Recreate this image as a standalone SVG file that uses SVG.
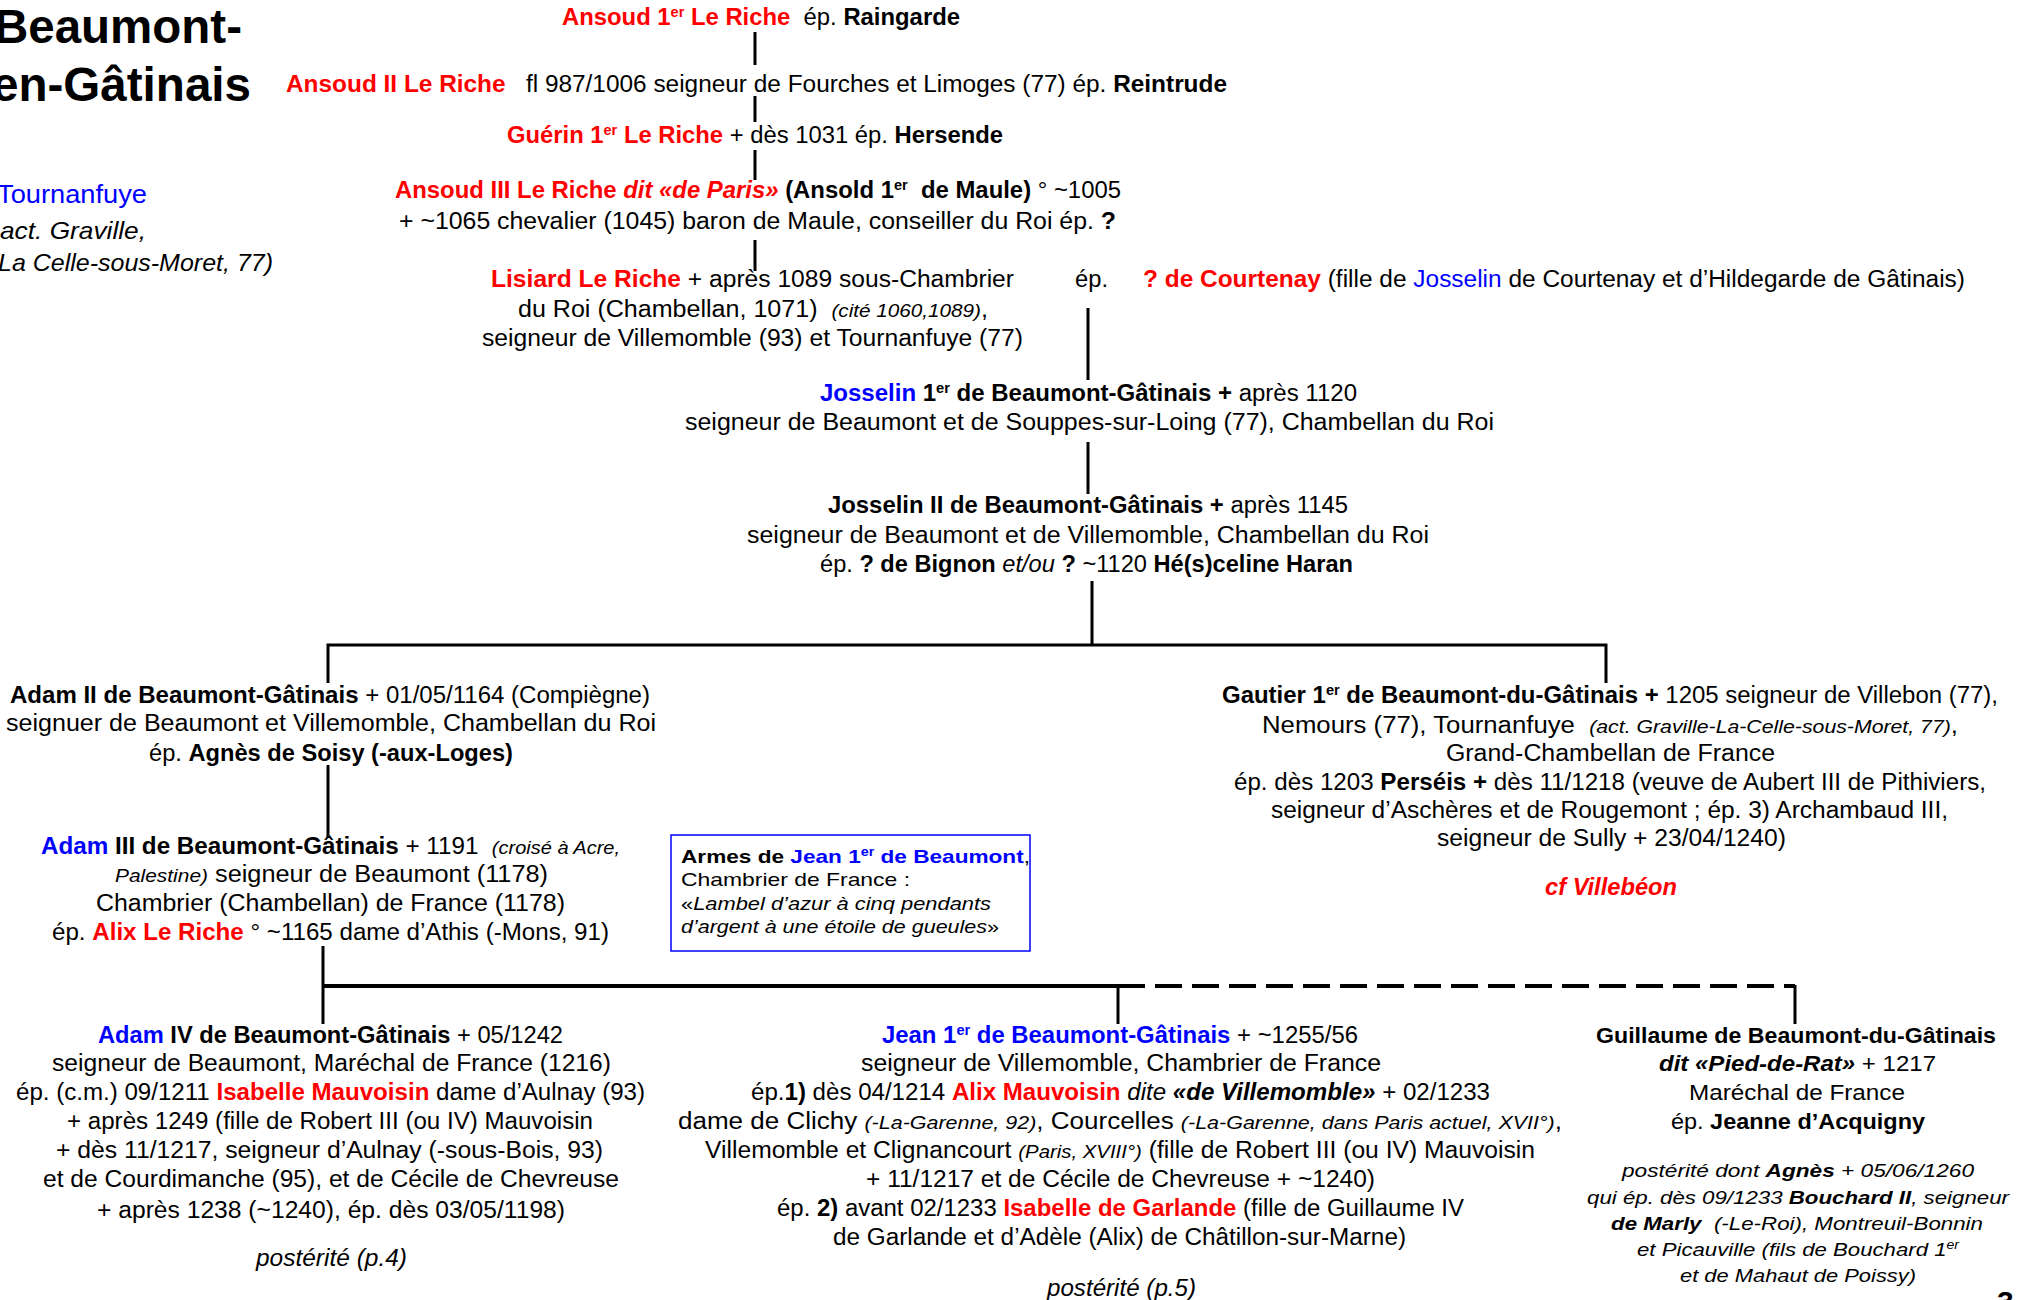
<svg xmlns="http://www.w3.org/2000/svg" width="2026" height="1300" viewBox="0 0 2026 1300">
<style>
text{font-family:'Liberation Sans Narrow','Liberation Sans',Arial,sans-serif;font-size:23px;fill:#000}
.w{font-family:'Liberation Sans',Arial,sans-serif}
.b{font-weight:bold}
.i{font-style:italic}
.r{fill:#ff0000}
.u{fill:#0000ff}
.sm{font-size:19px}
.sp{font-size:14px}
.title{font-family:'Liberation Sans',Arial,sans-serif;font-weight:bold;font-size:48px}
.ln{stroke:#000;stroke-width:3;fill:none}
.ln2{stroke:#000;stroke-width:4;fill:none}
.dash{stroke:#000;stroke-width:4;fill:none;stroke-dasharray:27 10}
</style>

<g id="title">
<text class="title" x="-6" y="43" textLength="248" lengthAdjust="spacingAndGlyphs">Beaumont-</text>
<text class="title" x="-8" y="101" textLength="259" lengthAdjust="spacingAndGlyphs">en-Gâtinais</text>
</g>
<g id="tournanfuye">
<text class="w u" style="font-size:26px" x="-3" y="203" textLength="150" lengthAdjust="spacingAndGlyphs">Tournanfuye</text>
<text class="w i" style="font-size:24px" x="0" y="239" textLength="146" lengthAdjust="spacingAndGlyphs">act. Graville,</text>
<text class="w i" style="font-size:24px" x="-2" y="271" textLength="275" lengthAdjust="spacingAndGlyphs">La Celle-sous-Moret, 77)</text>
</g>

<g id="connectors">
<path class="ln" d="M755,32 V65 M755,96 V122 M755,150 V180 M755,240 V271"/>
<path class="ln" d="M1088,308 V380 M1088,442 V494 M1092,581 V645"/>
<path class="ln" d="M328,683 V645 H1606 V683"/>
<path class="ln" d="M328,765 V838"/>
<path class="ln" d="M323,946 V1024"/>
<path class="ln2" d="M323,986 H1118"/>
<path class="ln" d="M1118,986 V1024"/>
<path class="dash" d="M1118,986 H1795"/>
<path class="ln" d="M1795,985 V1024"/>
</g>

<g id="ansoud1">
<text x="562" y="25" textLength="398" lengthAdjust="spacingAndGlyphs"><tspan class="b r">Ansoud 1</tspan><tspan class="b r sp" dy="-8">er</tspan><tspan class="b r" dy="8"> Le Riche</tspan>&#160; ép. <tspan class="b">Raingarde</tspan></text>
</g>
<g id="ansoud2">
<text x="286" y="92" textLength="941" lengthAdjust="spacingAndGlyphs"><tspan class="b r">Ansoud II Le Riche</tspan>&#160;&#160; fl 987/1006 seigneur de Fourches et Limoges (77) ép. <tspan class="b">Reintrude</tspan></text>
</g>
<g id="guerin">
<text x="507" y="143" textLength="496" lengthAdjust="spacingAndGlyphs"><tspan class="b r">Guérin 1</tspan><tspan class="b r sp" dy="-8">er</tspan><tspan class="b r" dy="8"> Le Riche</tspan> + dès 1031 ép. <tspan class="b">Hersende</tspan></text>
</g>
<g id="ansoud3">
<text x="395" y="198" textLength="726" lengthAdjust="spacingAndGlyphs"><tspan class="b r">Ansoud III Le Riche </tspan><tspan class="b r i">dit «de Paris»</tspan><tspan class="b"> (Ansold 1</tspan><tspan class="b sp" dy="-8">er</tspan><tspan class="b" dy="8">&#160; de Maule)</tspan> ° ~1005</text>
<text x="399" y="229" textLength="717" lengthAdjust="spacingAndGlyphs">+ ~1065 chevalier (1045) baron de Maule, conseiller du Roi ép. <tspan class="b">?</tspan></text>
</g>
<g id="lisiard">
<text x="491" y="287" textLength="523" lengthAdjust="spacingAndGlyphs"><tspan class="b r">Lisiard Le Riche</tspan> + après 1089 sous-Chambrier</text>
<text x="518" y="317" textLength="470" lengthAdjust="spacingAndGlyphs">du Roi (Chambellan, 1071)&#160; <tspan class="i sm">(cité 1060,1089)</tspan>,</text>
<text x="482" y="346" textLength="541" lengthAdjust="spacingAndGlyphs">seigneur de Villemomble (93) et Tournanfuye (77)</text>
<text x="1075" y="287" textLength="33" lengthAdjust="spacingAndGlyphs">ép.</text>
<text x="1143" y="287" textLength="822" lengthAdjust="spacingAndGlyphs"><tspan class="b r">? de Courtenay</tspan> (fille de <tspan class="u">Josselin</tspan> de Courtenay et d’Hildegarde de Gâtinais)</text>
</g>
<g id="josselin1">
<text x="820" y="401" textLength="537" lengthAdjust="spacingAndGlyphs"><tspan class="b u">Josselin</tspan><tspan class="b"> 1</tspan><tspan class="b sp" dy="-8">er</tspan><tspan class="b" dy="8"> de Beaumont-Gâtinais +</tspan> après 1120</text>
<text x="685" y="430" textLength="809" lengthAdjust="spacingAndGlyphs">seigneur de Beaumont et de Souppes-sur-Loing (77), Chambellan du Roi</text>
</g>
<g id="josselin2">
<text x="828" y="513" textLength="520" lengthAdjust="spacingAndGlyphs"><tspan class="b">Josselin II de Beaumont-Gâtinais +</tspan> après 1145</text>
<text x="747" y="543" textLength="682" lengthAdjust="spacingAndGlyphs">seigneur de Beaumont et de Villemomble, Chambellan du Roi</text>
<text x="820" y="572" textLength="533" lengthAdjust="spacingAndGlyphs">ép. <tspan class="b">? de Bignon</tspan><tspan class="i"> et/ou </tspan><tspan class="b">?</tspan> ~1120 <tspan class="b">Hé(s)celine Haran</tspan></text>
</g>
<g id="adam2">
<text x="10" y="703" textLength="640" lengthAdjust="spacingAndGlyphs"><tspan class="b">Adam II de Beaumont-Gâtinais</tspan> + 01/05/1164 (Compiègne)</text>
<text x="6" y="731" textLength="650" lengthAdjust="spacingAndGlyphs">seignuer de Beaumont et Villemomble, Chambellan du Roi</text>
<text x="149" y="761" textLength="364" lengthAdjust="spacingAndGlyphs">ép. <tspan class="b">Agnès de Soisy (-aux-Loges)</tspan></text>
</g>
<g id="gautier">
<text x="1222" y="703" textLength="776" lengthAdjust="spacingAndGlyphs"><tspan class="b">Gautier 1</tspan><tspan class="b sp" dy="-8">er</tspan><tspan class="b" dy="8"> de Beaumont-du-Gâtinais +</tspan> 1205 seigneur de Villebon (77),</text>
<text x="1262" y="733" textLength="696" lengthAdjust="spacingAndGlyphs">Nemours (77), Tournanfuye&#160; <tspan class="i sm">(act. Graville-La-Celle-sous-Moret, 77)</tspan>,</text>
<text x="1446" y="761" textLength="329" lengthAdjust="spacingAndGlyphs">Grand-Chambellan de France</text>
<text x="1234" y="790" textLength="752" lengthAdjust="spacingAndGlyphs">ép. dès 1203 <tspan class="b">Perséis +</tspan> dès 11/1218 (veuve de Aubert III de Pithiviers,</text>
<text x="1271" y="818" textLength="677" lengthAdjust="spacingAndGlyphs">seigneur d’Aschères et de Rougemont ; ép. 3) Archambaud III,</text>
<text x="1437" y="846" textLength="349" lengthAdjust="spacingAndGlyphs">seigneur de Sully + 23/04/1240)</text>
<text class="b i r" x="1545" y="895" textLength="132" lengthAdjust="spacingAndGlyphs">cf Villebéon</text>
</g>
<g id="adam3">
<text x="41" y="854" textLength="579" lengthAdjust="spacingAndGlyphs"><tspan class="b u">Adam</tspan><tspan class="b"> III de Beaumont-Gâtinais</tspan> + 1191&#160; <tspan class="i sm">(croisé à Acre,</tspan></text>
<text x="115" y="882" textLength="433" lengthAdjust="spacingAndGlyphs"><tspan class="i sm">Palestine)</tspan> seigneur de Beaumont (1178)</text>
<text x="96" y="911" textLength="469" lengthAdjust="spacingAndGlyphs">Chambrier (Chambellan) de France (1178)</text>
<text x="52" y="940" textLength="557" lengthAdjust="spacingAndGlyphs">ép. <tspan class="b r">Alix Le Riche</tspan> ° ~1165 dame d’Athis (-Mons, 91)</text>
</g>
<g id="armes">
<rect x="671" y="835" width="359" height="116" fill="#fff" stroke="#0000ff" stroke-width="1.5"/>
<text class="w" style="font-size:19px" x="681" y="863" textLength="349" lengthAdjust="spacingAndGlyphs"><tspan class="b">Armes de </tspan><tspan class="b u">Jean 1</tspan><tspan class="b u" style="font-size:12px" dy="-7">er</tspan><tspan class="b u" dy="7"> de Beaumont</tspan>,</text>
<text class="w" style="font-size:19px" x="681" y="886" textLength="229" lengthAdjust="spacingAndGlyphs">Chambrier de France :</text>
<text class="w" style="font-size:19px" x="681" y="910" textLength="310" lengthAdjust="spacingAndGlyphs">«<tspan class="i">Lambel d’azur à cinq pendants</tspan></text>
<text class="w i" style="font-size:19px" x="681" y="933" textLength="318" lengthAdjust="spacingAndGlyphs">d’argent à une étoile de gueules<tspan style="font-style:normal">»</tspan></text>
</g>
<g id="adam4">
<text x="98" y="1043" textLength="465" lengthAdjust="spacingAndGlyphs"><tspan class="b u">Adam</tspan><tspan class="b"> IV de Beaumont-Gâtinais</tspan> + 05/1242</text>
<text x="52" y="1071" textLength="559" lengthAdjust="spacingAndGlyphs">seigneur de Beaumont, Maréchal de France (1216)</text>
<text x="16" y="1100" textLength="629" lengthAdjust="spacingAndGlyphs">ép. (c.m.) 09/1211 <tspan class="b r">Isabelle Mauvoisin</tspan> dame d’Aulnay (93)</text>
<text x="67" y="1129" textLength="526" lengthAdjust="spacingAndGlyphs">+ après 1249 (fille de Robert III (ou IV) Mauvoisin</text>
<text x="56" y="1158" textLength="547" lengthAdjust="spacingAndGlyphs">+ dès 11/1217, seigneur d’Aulnay (-sous-Bois, 93)</text>
<text x="43" y="1187" textLength="576" lengthAdjust="spacingAndGlyphs">et de Courdimanche (95), et de Cécile de Chevreuse</text>
<text x="97" y="1218" textLength="468" lengthAdjust="spacingAndGlyphs">+ après 1238 (~1240), ép. dès 03/05/1198)</text>
<text class="i" x="256" y="1266" textLength="151" lengthAdjust="spacingAndGlyphs">postérité (p.4)</text>
</g>
<g id="jean1">
<text x="882" y="1043" textLength="476" lengthAdjust="spacingAndGlyphs"><tspan class="b u">Jean 1</tspan><tspan class="b u sp" dy="-8">er</tspan><tspan class="b u" dy="8"> de Beaumont-Gâtinais</tspan> + ~1255/56</text>
<text x="861" y="1071" textLength="520" lengthAdjust="spacingAndGlyphs">seigneur de Villemomble, Chambrier de France</text>
<text x="751" y="1100" textLength="739" lengthAdjust="spacingAndGlyphs">ép.<tspan class="b">1)</tspan> dès 04/1214 <tspan class="b r">Alix Mauvoisin</tspan><tspan class="i"> dite </tspan><tspan class="b i">«de Villemomble»</tspan> + 02/1233</text>
<text x="678" y="1129" textLength="884" lengthAdjust="spacingAndGlyphs">dame de Clichy <tspan class="i sm">(-La-Garenne, 92)</tspan>, Courcelles <tspan class="i sm">(-La-Garenne, dans Paris actuel, XVII°)</tspan>,</text>
<text x="705" y="1158" textLength="830" lengthAdjust="spacingAndGlyphs">Villemomble et Clignancourt <tspan class="i sm">(Paris, XVIII°)</tspan> (fille de Robert III (ou IV) Mauvoisin</text>
<text x="866" y="1187" textLength="509" lengthAdjust="spacingAndGlyphs">+ 11/1217 et de Cécile de Chevreuse + ~1240)</text>
<text x="777" y="1216" textLength="687" lengthAdjust="spacingAndGlyphs">ép. <tspan class="b">2)</tspan> avant 02/1233 <tspan class="b r">Isabelle de Garlande</tspan> (fille de Guillaume IV</text>
<text x="833" y="1245" textLength="573" lengthAdjust="spacingAndGlyphs">de Garlande et d’Adèle (Alix) de Châtillon-sur-Marne)</text>
<text class="i" x="1047" y="1296" textLength="149" lengthAdjust="spacingAndGlyphs">postérité (p.5)</text>
</g>
<g id="guillaume">
<text class="w b" style="font-size:22px" x="1596" y="1043" textLength="400" lengthAdjust="spacingAndGlyphs">Guillaume de Beaumont-du-Gâtinais</text>
<text class="w" style="font-size:22px" x="1659" y="1071" textLength="277" lengthAdjust="spacingAndGlyphs"><tspan class="b i">dit «Pied-de-Rat»</tspan> + 1217</text>
<text class="w" style="font-size:22px" x="1689" y="1100" textLength="216" lengthAdjust="spacingAndGlyphs">Maréchal de France</text>
<text class="w" style="font-size:22px" x="1671" y="1129" textLength="254" lengthAdjust="spacingAndGlyphs">ép. <tspan class="b">Jeanne d’Acquigny</tspan></text>
<text class="w i" style="font-size:19px" x="1622" y="1177" textLength="352" lengthAdjust="spacingAndGlyphs">postérité dont <tspan class="b">Agnès</tspan> + 05/06/1260</text>
<text class="w i" style="font-size:19px" x="1587" y="1204" textLength="422" lengthAdjust="spacingAndGlyphs">qui ép. dès 09/1233 <tspan class="b">Bouchard II</tspan>, seigneur</text>
<text class="w i" style="font-size:19px" x="1611" y="1230" textLength="372" lengthAdjust="spacingAndGlyphs"><tspan class="b">de Marly</tspan>&#160; (-Le-Roi), Montreuil-Bonnin</text>
<text class="w i" style="font-size:19px" x="1637" y="1256" textLength="322" lengthAdjust="spacingAndGlyphs">et Picauville (fils de Bouchard 1<tspan style="font-size:12px" dy="-7">er</tspan></text>
<text class="w i" style="font-size:19px" x="1680" y="1282" textLength="236" lengthAdjust="spacingAndGlyphs">et de Mahaut de Poissy)</text>
</g>
<g id="page">
<text class="w b" style="font-size:30px" x="1997" y="1312">3</text>
</g>
</svg>
